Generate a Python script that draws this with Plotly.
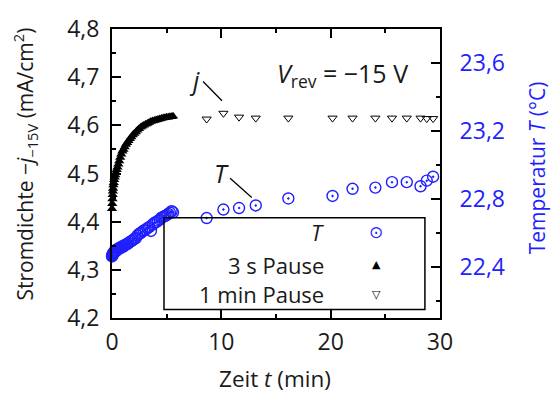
import plotly.graph_objects as go

# ---------------- data ----------------
# 3 s Pause: time (min), current density (mA/cm^2), temperature (degC)
t_3s = [0.00, 0.02, 0.04, 0.06, 0.08, 0.10, 0.13, 0.16, 0.20, 0.25, 0.30, 0.36, 0.43,
        0.50, 0.58, 0.66, 0.75, 0.85, 0.95, 1.05, 1.16, 1.27, 1.39, 1.51, 1.64, 1.77,
        1.90, 2.04, 2.18, 2.32, 2.47, 2.62, 2.77, 2.92, 3.08, 3.24, 3.40, 3.56, 3.72,
        3.88, 4.04, 4.20, 4.36, 4.52, 4.68, 4.84, 5.00, 5.15, 5.30, 5.45, 5.58]
j_3s = [4.427, 4.437, 4.447, 4.456, 4.463, 4.469, 4.476, 4.481, 4.487, 4.492, 4.497,
        4.502, 4.508, 4.513, 4.519, 4.526, 4.533, 4.540, 4.546, 4.550, 4.555, 4.560,
        4.564, 4.568, 4.572, 4.576, 4.580, 4.583, 4.586, 4.590, 4.593, 4.596, 4.598,
        4.600, 4.602, 4.604, 4.606, 4.608, 4.609, 4.610, 4.611, 4.612, 4.613, 4.614,
        4.615, 4.616, 4.617, 4.617, 4.618, 4.618, 4.619]
T_3s = [22.462, 22.468, 22.470, 22.474, 22.478, 22.475, 22.482, 22.486, 22.490, 22.487,
        22.495, 22.500, 22.497, 22.505, 22.508, 22.512, 22.510, 22.518, 22.522, 22.520,
        22.528, 22.532, 22.535, 22.540, 22.548, 22.552, 22.558, 22.566, 22.570, 22.585,
        22.595, 22.600, 22.608, 22.615, 22.620, 22.628, 22.635, 22.612, 22.650, 22.660,
        22.664, 22.672, 22.678, 22.690, 22.695, 22.700, 22.705, 22.712, 22.720, 22.728,
        22.722]

# 1 min Pause
t_1min = [8.66, 10.19, 11.62, 13.15, 16.13, 20.17, 22.0, 24.09, 25.61, 26.96, 28.22, 28.79, 29.37]
j_1min = [4.613, 4.625, 4.617, 4.615, 4.615, 4.615, 4.615, 4.615, 4.615, 4.615, 4.615, 4.614, 4.614]
T_1min = [22.688, 22.738, 22.747, 22.762, 22.803, 22.818, 22.860, 22.867, 22.899, 22.899,
          22.875, 22.908, 22.931]

x_ticks_major = 10
y_left_range = [4.2, 4.8]
y_right_range = [22.1, 23.8]

BLUE = "#1f1fff"
TXT = "#1a1a1a"
FONT = "Open Sans"

fig = go.Figure()

circle_marker = dict(symbol="circle-open-dot", size=11, color=BLUE,
                     line=dict(width=1.4, color=BLUE))
fig.add_trace(go.Scatter(x=t_3s, y=T_3s, yaxis="y2", mode="markers", cliponaxis=False,
                         name="T", marker=circle_marker))
fig.add_trace(go.Scatter(x=t_1min, y=T_1min, yaxis="y2", mode="markers", cliponaxis=False,
                         name="T", marker=circle_marker))
fig.add_trace(go.Scatter(x=t_3s, y=j_3s, mode="markers", cliponaxis=False, name="3 s Pause",
                         marker=dict(symbol="triangle-up", size=9, color="black",
                                     line=dict(width=0))))
fig.add_trace(go.Scatter(x=t_1min, y=j_1min, mode="markers", cliponaxis=False,
                         name="1 min Pause",
                         marker=dict(symbol="triangle-down-open", size=8, color="black",
                                     line=dict(width=1, color="black"))))

axis_common = dict(showline=True, linewidth=2, linecolor="black", ticks="inside",
                   ticklen=9, tickwidth=1.5, tickcolor="black", showgrid=False,
                   zeroline=False, ticklabeloverflow="allow")

fig.update_layout(
    width=551, height=394, autosize=False,
    margin=dict(l=112, r=111, t=15, b=76),
    paper_bgcolor="white", plot_bgcolor="white",
    separators=", ",
    showlegend=False,
    font=dict(family=FONT, size=23, color=TXT),
    xaxis=dict(range=[0, 30], dtick=x_ticks_major, tick0=0, mirror="ticks",
               minor=dict(dtick=5, ticklen=4, ticks="inside", tickwidth=1.5, tickcolor="black"),
               tickfont=dict(size=23, color=TXT), ticklabelstandoff=2, **axis_common),
    yaxis=dict(range=y_left_range, dtick=0.1, tick0=4.2, tickformat=".1f",
               minor=dict(dtick=0.05, ticklen=4, ticks="inside", tickwidth=1.5, tickcolor="black"),
               tickfont=dict(size=23, color=TXT), ticklabelstandoff=6, **axis_common),
    yaxis2=dict(range=y_right_range, overlaying="y", side="right", tick0=22.4, dtick=0.4,
                tickformat=".1f",
                minor=dict(dtick=0.2, tick0=22.4, ticklen=4, ticks="inside", tickwidth=1.5,
                           tickcolor="black"),
                tickfont=dict(size=23, color=BLUE), ticklabelstandoff=13, **axis_common),
)

# axis titles
fig.add_annotation(xref="paper", yref="paper", x=0, y=0.531, xshift=-87, textangle=-90,
                   xanchor="center", yanchor="middle",
                   text="Stromdichte −<i>j</i><sub>−15V</sub> (mA/cm<sup>2</sup>)",
                   showarrow=False, font=dict(size=21, color=TXT))
fig.add_annotation(xref="paper", yref="paper", x=1, y=0.518, xshift=97, textangle=-90,
                   xanchor="center", yanchor="middle",
                   text="Temperatur <i>T</i> (°C)", showarrow=False,
                   font=dict(size=21, color=BLUE))
fig.add_annotation(xref="paper", yref="paper", x=0.497, y=-0.208,
                   xanchor="center", yanchor="middle",
                   text="Zeit <i>t</i> (min)", showarrow=False, font=dict(size=22.5, color=TXT))

# in-plot labels
fig.add_annotation(x=21.1, y=4.705, text="<i>V</i><sub>rev</sub> = −15 V", showarrow=False,
                   xanchor="center", yanchor="middle", font=dict(size=25, color=TXT))
fig.add_annotation(x=7.5, y=4.695, text="<i>j</i>", showarrow=False,
                   xanchor="center", yanchor="middle", font=dict(size=25, color=TXT))
fig.add_annotation(x=9.97, y=4.501, text="<i>T</i>", showarrow=False,
                   xanchor="center", yanchor="middle", font=dict(size=25, color=TXT))
fig.add_shape(type="line", x0=8.33, y0=4.691, x1=10.06, y1=4.651,
              line=dict(color="black", width=1.3))
fig.add_shape(type="line", x0=10.8, y0=4.49, x1=12.78, y1=4.45,
              line=dict(color="black", width=1.3))

# custom legend (text right-aligned, symbol to the right, gnuplot style)
fig.add_shape(type="rect", xref="paper", yref="paper", x0=0.1585, x1=0.954, y0=0.0297,
              y1=0.3465, line=dict(color="black", width=1.5))
leg_y = [0.297, 0.185, 0.0825]
leg_txt = ["<i>T</i>", "3 s Pause", "1 min Pause"]
leg_sym = ["⊙", "▲", "▽"]
leg_col = [BLUE, "black", "black"]
leg_sz = [17, 11, 11]
for yy, tx, sy, cc, sz in zip(leg_y, leg_txt, leg_sym, leg_col, leg_sz):
    fig.add_annotation(xref="paper", yref="paper", x=0.652, y=yy, xanchor="right",
                       yanchor="middle", text=tx, showarrow=False,
                       font=dict(size=22, color=TXT))
    fig.add_annotation(xref="paper", yref="paper", x=0.805, y=yy, text=sy, showarrow=False,
                       xanchor="center", yanchor="middle",
                       font=dict(size=sz, color=cc, family="DejaVu Sans"))

fig.write_html("out.html")
